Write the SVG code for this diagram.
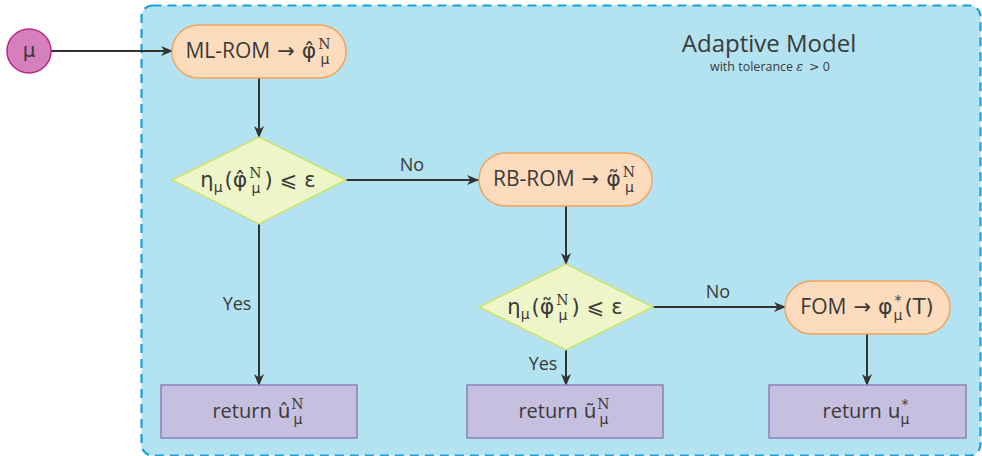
<svg xmlns="http://www.w3.org/2000/svg" width="982" height="456" viewBox="0 0 982 456">
  <defs>
    <marker id="arrow" viewBox="0 0 12 10" refX="11" refY="5" markerWidth="12" markerHeight="10" markerUnits="userSpaceOnUse" orient="auto">
      <path d="M0,0 L12,5 L0,10 L3.5,5 z" fill="#333333"/>
    </marker>
    <style>
      .txt { font-family: "Open Sans", "DejaVu Sans", sans-serif; fill: #3a3a3a; }
      .math { font-family: "DejaVu Sans", "Noto Sans", sans-serif; }
      .sup { font-family: "DejaVu Serif", "Liberation Serif", serif; }
      .proc { fill: #fddcbe; stroke: #f2a35c; stroke-width: 1.5; }
      .dec { fill: #eef5c9; stroke: #cde26a; stroke-width: 1.5; }
      .ret { fill: #c6bfdf; stroke: #8a82ba; stroke-width: 1.5; }
      .edge { stroke: #333333; stroke-width: 2; fill: none; marker-end: url(#arrow); }
      .lbl { font-family: "Open Sans", "DejaVu Sans", sans-serif; font-size: 18px; fill: #3a3a3a; }
    </style>
  </defs>

  <!-- adaptive model region -->
  <g id="region">
    <rect x="141.5" y="5.5" width="839" height="450" rx="11" fill="#b3e2f0" stroke="#1ba2d8" stroke-width="2.2" stroke-dasharray="9 6"/>
    <text class="txt" x="769" y="52" font-size="24" text-anchor="middle">Adaptive Model</text>
    <text class="txt" x="770" y="71" font-size="12.5" text-anchor="middle">with tolerance <tspan font-family="DejaVu Serif, serif" font-style="italic">ε</tspan><tspan class="math" dx="6">&gt;</tspan> 0</text>
  </g>

  <!-- connectors -->
  <g id="connectors">
    <line class="edge" x1="51" y1="51" x2="172" y2="51"/>
    <line class="edge" x1="259" y1="78" x2="259" y2="137"/>
    <line class="edge" x1="346" y1="180" x2="478" y2="180"/>
    <line class="edge" x1="259" y1="224" x2="259" y2="385"/>
    <line class="edge" x1="566" y1="206" x2="566" y2="264"/>
    <line class="edge" x1="653" y1="307" x2="785" y2="307"/>
    <line class="edge" x1="566" y1="350" x2="566" y2="385"/>
    <line class="edge" x1="867" y1="334" x2="867" y2="385"/>
    <text class="lbl" x="412" y="171" text-anchor="middle">No</text>
    <text class="lbl" x="718" y="298" text-anchor="middle">No</text>
    <text class="lbl" x="237" y="310" text-anchor="middle">Yes</text>
    <text class="lbl" x="543" y="370" text-anchor="middle">Yes</text>
  </g>

  <!-- input parameter -->
  <g id="mu">
    <circle cx="29" cy="51" r="22" fill="#d580bd" stroke="#b52a82" stroke-width="1.5"/>
    <text class="txt math" x="29" y="57" font-size="20" text-anchor="middle">μ</text>
  </g>

  <g id="ml-rom">
    <rect class="proc" x="172" y="25" width="174" height="53" rx="26.5"/>
    <text class="txt" x="258" y="58" font-size="21" text-anchor="middle">ML-ROM<tspan class="math" dx="7">→</tspan><tspan class="math" font-size="22" dx="7">φ̂</tspan><tspan class="sup" font-size="14" dx="2" dy="-9">N</tspan><tspan class="math" font-size="14" dx="-10" dy="15">μ</tspan></text>
  </g>

  <g id="check-ml">
    <polygon class="dec" points="172,180 259,137 346,180 259,224"/>
    <text class="txt math" x="258" y="187" font-size="21" text-anchor="middle">η<tspan font-size="14" dy="5">μ</tspan><tspan dx="2" dy="-5">(</tspan><tspan font-size="22">φ̂</tspan><tspan class="sup" font-size="14" dx="2" dy="-9">N</tspan><tspan font-size="14" dx="-10" dy="15">μ</tspan><tspan dx="4" dy="-6">)</tspan><tspan dx="7">⩽</tspan><tspan dx="7">ε</tspan></text>
  </g>

  <g id="rb-rom">
    <rect class="proc" x="479" y="153" width="173" height="53" rx="26.5"/>
    <text class="txt" x="564" y="186" font-size="21" text-anchor="middle">RB-ROM<tspan class="math" dx="7">→</tspan><tspan class="math" font-size="22" dx="7">φ̃</tspan><tspan class="sup" font-size="14" dx="2" dy="-9">N</tspan><tspan class="math" font-size="14" dx="-10" dy="15">μ</tspan></text>
  </g>

  <g id="check-rb">
    <polygon class="dec" points="479,307 566,264 653,307 566,350"/>
    <text class="txt math" x="565" y="314" font-size="21" text-anchor="middle">η<tspan font-size="14" dy="5">μ</tspan><tspan dx="2" dy="-5">(</tspan><tspan font-size="22">φ̃</tspan><tspan class="sup" font-size="14" dx="2" dy="-9">N</tspan><tspan font-size="14" dx="-10" dy="15">μ</tspan><tspan dx="4" dy="-6">)</tspan><tspan dx="7">⩽</tspan><tspan dx="7">ε</tspan></text>
  </g>

  <g id="fom">
    <rect class="proc" x="785" y="281" width="165" height="53" rx="26.5"/>
    <text class="txt" x="867" y="314" font-size="21" text-anchor="middle">FOM<tspan class="math" dx="7">→</tspan><tspan class="math" font-size="22" dx="7">φ</tspan><tspan class="math" font-size="14" dx="2" dy="-9">*</tspan><tspan class="math" font-size="14" dx="-8" dy="15">μ</tspan><tspan class="math" dx="2" dy="-6">(T)</tspan></text>
  </g>

  <g id="return-ml">
    <rect class="ret" x="161" y="385" width="196" height="53"/>
    <text class="txt" x="258" y="418" font-size="20" text-anchor="middle">return<tspan class="math" dx="6">û</tspan><tspan class="sup" font-size="14" dx="1" dy="-9">N</tspan><tspan class="math" font-size="14" dx="-10" dy="15">μ</tspan></text>
  </g>

  <g id="return-rb">
    <rect class="ret" x="467" y="385" width="196" height="53"/>
    <text class="txt" x="564" y="418" font-size="20" text-anchor="middle">return<tspan class="math" dx="6">ũ</tspan><tspan class="sup" font-size="14" dx="1" dy="-9">N</tspan><tspan class="math" font-size="14" dx="-10" dy="15">μ</tspan></text>
  </g>

  <g id="return-fom">
    <rect class="ret" x="769" y="385" width="197" height="53"/>
    <text class="txt" x="866" y="418" font-size="20" text-anchor="middle">return<tspan class="math" dx="6">u</tspan><tspan class="math" font-size="14" dx="1" dy="-9">*</tspan><tspan class="math" font-size="14" dx="-8" dy="15">μ</tspan></text>
  </g>
</svg>
